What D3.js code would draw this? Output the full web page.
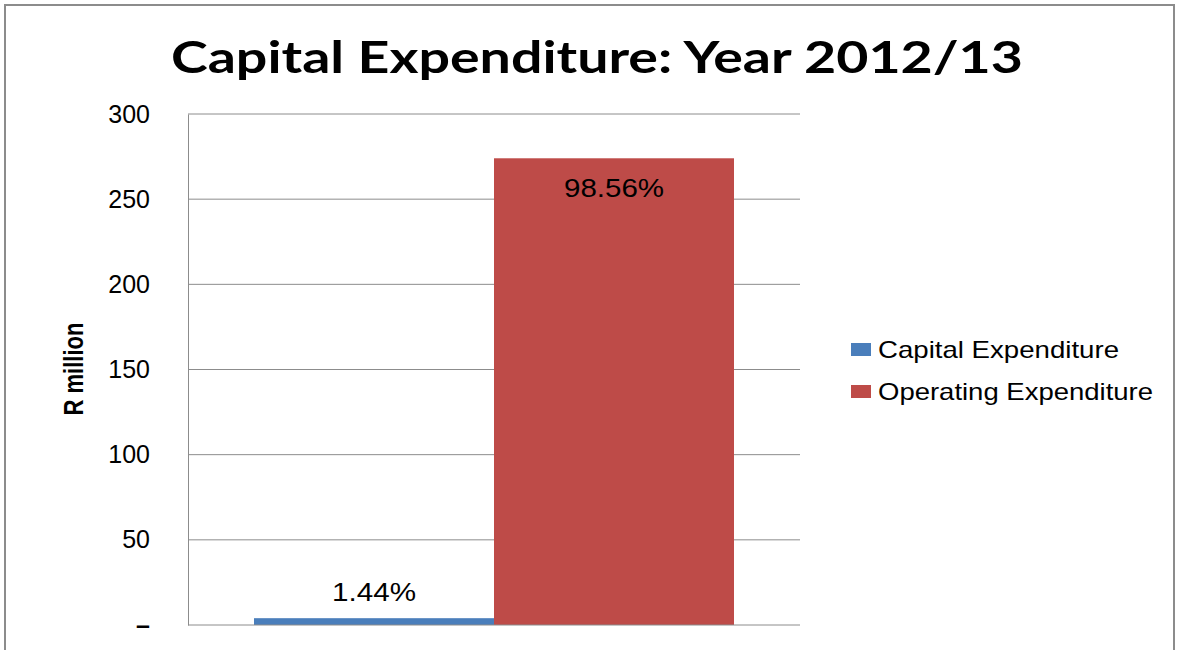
<!DOCTYPE html>
<html>
<head>
<meta charset="utf-8">
<script src="https://cdn.jsdelivr.net/npm/d3@7"></script>
<style>
  body { margin: 0; background: #fff; }
  svg { display: block; font-family: "Liberation Sans", Arial, sans-serif; }
</style>
</head>
<body>
<div id="chart"></div>
<script>
// chart data
const categories = ["2012/13"];
const seriesNames = ["Capital Expenditure", "Operating Expenditure"];
const seriesValues = [4.0, 274];
const seriesLabels = ["1.44%", "98.56%"];
const seriesColors = ["#4a7ebb", "#be4b48"];
const yTicks = [0, 50, 100, 150, 200, 250, 300];

const W = 1180, H = 650;
const margin = {top: 114, left: 188, right: 380, bottom: 25};

const svg = d3.select("#chart").append("svg")
    .attr("width", W)
    .attr("height", H);

// outer frame
svg.append("rect")
    .attr("x", 5).attr("y", 5)
    .attr("width", 1169).attr("height", 660)
    .attr("fill", "none")
    .attr("stroke", "#8c8c8c")
    .attr("stroke-width", 2);

const plotW = W - margin.left - margin.right;
const plotH = H - margin.top - margin.bottom;

const g = svg.append("g").attr("transform", `translate(${margin.left},${margin.top})`);

const y = d3.scaleLinear().domain([0, 300]).range([plotH, 0]);
const x0 = d3.scaleBand().domain(categories).range([0, plotW]).paddingInner(0).paddingOuter(0.1375);
const x1 = d3.scaleBand().domain(seriesNames).range([0, x0.bandwidth()]).padding(0);

// gridlines
g.selectAll("line.grid")
    .data(yTicks.filter(d => d > 0))
    .enter().append("line")
    .attr("class", "grid")
    .attr("x1", 0).attr("x2", plotW)
    .attr("y1", d => y(d)).attr("y2", d => y(d))
    .attr("stroke", "#8c8c8c")
    .attr("stroke-width", 1);

// y axis
const yAxis = d3.axisLeft(y)
    .tickValues(yTicks)
    .tickSize(0)
    .tickPadding(38)
    .tickFormat(d => d === 0 ? "\u2013" : d);
const ya = g.append("g").call(yAxis);
ya.select(".domain").attr("stroke", "#8c8c8c");
ya.selectAll("text")
    .style("font-size", "25px")
    .style("font-weight", d => d === 0 ? "bold" : "normal")
    .attr("fill", "#000");

// bars
const barData = seriesNames.map((n, i) => ({name: n, value: seriesValues[i], color: seriesColors[i], label: seriesLabels[i]}));
const barG = g.selectAll("g.cat")
    .data(categories)
    .enter().append("g")
    .attr("class", "cat")
    .attr("transform", d => `translate(${x0(d)},0)`);

barG.selectAll("rect")
    .data(barData)
    .enter().append("rect")
    .attr("x", d => x1(d.name))
    .attr("y", d => y(d.value))
    .attr("width", x1.bandwidth())
    .attr("height", d => plotH - y(d.value))
    .attr("fill", d => d.color);

// data labels
barG.selectAll("text.lbl")
    .data(barData)
    .enter().append("text")
    .attr("class", "lbl")
    .attr("x", d => x1(d.name) + x1.bandwidth() / 2)
    .attr("y", d => d.value > 100 ? y(d.value) + 39 : y(d.value) - 17)
    .attr("text-anchor", "middle")
    .attr("textLength", d => d.label.length > 5 ? 100 : 84)
    .attr("lengthAdjust", "spacingAndGlyphs")
    .style("font-size", "25px")
    .text(d => d.label);

// x baseline
g.append("line")
    .attr("x1", 0).attr("x2", plotW)
    .attr("y1", plotH).attr("y2", plotH)
    .attr("stroke", "#8c8c8c");

// title
svg.append("text")
    .attr("x", 597)
    .attr("y", 73)
    .attr("text-anchor", "middle")
    .attr("textLength", 852)
    .attr("lengthAdjust", "spacingAndGlyphs")
    .style("font-family", "Lato, 'Open Sans', sans-serif")
    .style("font-weight", "bold")
    .style("font-size", "44px")
    .text("Capital Expenditure: Year 2012/13");

// y axis title
svg.append("text")
    .attr("transform", "translate(83,369) rotate(-90)")
    .attr("text-anchor", "middle")
    .attr("textLength", 93)
    .attr("lengthAdjust", "spacingAndGlyphs")
    .style("font-weight", "bold")
    .style("font-size", "27px")
    .text("R million");

// legend
const legend = svg.append("g").attr("transform", "translate(851,343)");
const li = legend.selectAll("g")
    .data(seriesNames)
    .enter().append("g")
    .attr("transform", (d, i) => `translate(0,${i * 42})`);
li.append("rect")
    .attr("width", 20).attr("height", 13)
    .attr("fill", (d, i) => seriesColors[i]);
li.append("text")
    .attr("x", 27)
    .attr("y", 15)
    .attr("textLength", (d, i) => i === 0 ? 241 : 275)
    .attr("lengthAdjust", "spacingAndGlyphs")
    .style("font-size", "24px")
    .text(d => d);
</script>
</body>
</html>
